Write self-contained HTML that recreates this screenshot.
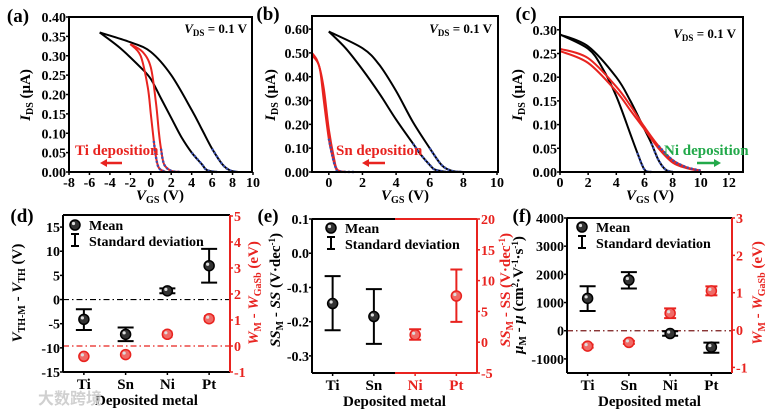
<!DOCTYPE html>
<html><head><meta charset="utf-8"><style>
html,body{margin:0;padding:0;background:#fff;}
svg{display:block;font-family:"Liberation Serif","Noto Serif CJK SC",serif;font-weight:bold;}
</style></head><body>
<svg id="fig" width="775" height="413" viewBox="0 0 775 413" xmlns="http://www.w3.org/2000/svg"></svg>
<script>
// ---- data: transfer curves ----
const aBlackFwdX=[-5,-2,0,2,4,5,6,7,7.7,8.5];
const aBlackFwdY=[0.36,0.335,0.31,0.25,0.16,0.11,0.06,0.02,0.005,0];
const aBlackRevX=[-5,-3,-1,0,1,2,3,4,5,5.5,6.5];
const aBlackRevY=[0.36,0.32,0.27,0.24,0.19,0.14,0.09,0.05,0.02,0.005,0];
const aRed1X=[-2,-1,-0.3,0,0.3,0.5,0.8,1.5];
const aRed1Y=[0.33,0.30,0.22,0.15,0.08,0.04,0.01,0];
const aRed2X=[-2,-0.8,0,0.5,0.8,1,1.3,2,3];
const aRed2Y=[0.33,0.31,0.27,0.18,0.1,0.06,0.02,0.003,0];
const bBlackFwdX=[0,2,3,4,5,6,6.7,7.3,8];
const bBlackFwdY=[0.59,0.52,0.45,0.34,0.21,0.10,0.03,0.005,0];
const bBlackRevX=[0,1,2,3,4,5,5.5,6,6.3,7];
const bBlackRevY=[0.59,0.52,0.43,0.33,0.22,0.12,0.07,0.03,0.01,0];
const bRed1X=[-1,-0.7,-0.5,-0.3,0,0.2,0.4,0.6,1.5];
const bRed1Y=[0.5,0.47,0.42,0.30,0.14,0.07,0.02,0.003,0];
const bRed2X=[-1,-0.6,-0.3,0,0.3,0.5,1];
const bRed2Y=[0.49,0.45,0.35,0.18,0.06,0.01,0];
const cBlack1X=[0,2,3,4,5,5.5,6,6.5];
const cBlack1Y=[0.29,0.26,0.22,0.16,0.08,0.04,0.005,0];
const cBlack2X=[0,2,4,5,6,6.5,7,7.5,8];
const cBlack2Y=[0.29,0.265,0.2,0.15,0.09,0.06,0.025,0.005,0];
const cRed1X=[0,2,4,5,6,7,8,9,10];
const cRed1Y=[0.255,0.23,0.17,0.13,0.09,0.05,0.02,0.008,0.002];
const cRed2X=[0,2,4,5,6,7,8,9,10];
const cRed2Y=[0.26,0.24,0.18,0.14,0.095,0.055,0.025,0.01,0.003];
// ---- data: statistics ----
const metals=["Ti","Sn","Ni","Pt"];
const dVthMean=[-4.1,-7.2,1.8,7];
const dVthLo=[-6.3,-8.6,1.3,3.5];
const dVthHi=[-2,-5.8,2.3,10.5];
const dWMean=[-0.4,-0.33,0.45,1.05];
const dWErr=[0.05,0.05,0.1,0.1];
const eSSMean=[-0.147,-0.185];
const eSSLo=[-0.225,-0.265];
const eSSHi=[-0.067,-0.105];
const eSSRMean=[1.2,7.5];
const eSSRLo=[0.4,3.3];
const eSSRHi=[2.1,11.8];
const fMuMean=[1150,1800,-100,-580];
const fMuLo=[700,1500,-180,-780];
const fMuHi=[1580,2080,-20,-420];
const fWMean=[-0.43,-0.33,0.45,1.05];
const fWErr=[0.04,0.04,0.13,0.12];

const NS="http://www.w3.org/2000/svg";
const svg=document.getElementById('fig');
const RED="#e8231f", BLUE="#3a4fb0", GREEN="#22a94a";
const TF=14;
function mk(tag,attrs,parent){const e=document.createElementNS(NS,tag);for(const k in attrs)e.setAttribute(k,attrs[k]);(parent||svg).appendChild(e);return e;}
function txt(s,x,y,size,fill,anchor,name,rot){
  const t=mk('text',{x:x,y:y,'font-size':size,fill:fill||'#000','text-anchor':anchor||'middle'});
  
  
  if(rot)t.setAttribute('transform','rotate('+rot+' '+x+' '+y+')');
  t.innerHTML=s;return t;}
function lin(d0,d1,p0,p1){return v=>p0+(v-d0)*(p1-p0)/(d1-d0);}
function curve(X,Y,sx,sy,color,name,w,dash){
  const P=X.map((x,i)=>[sx(x),sy(Y[i])]);
  let d='M'+P[0][0].toFixed(1)+','+P[0][1].toFixed(1);
  for(let i=0;i<P.length-1;i++){const p0=P[i-1]||P[i],p1=P[i],p2=P[i+1],p3=P[i+2]||p2;
    const c1=[p1[0]+(p2[0]-p0[0])/6,p1[1]+(p2[1]-p0[1])/6],c2=[p2[0]-(p3[0]-p1[0])/6,p2[1]-(p3[1]-p1[1])/6];
    d+='C'+c1.map(v=>v.toFixed(1))+' '+c2.map(v=>v.toFixed(1))+' '+p2.map(v=>v.toFixed(1));}
  const p=mk('path',{d:d,fill:'none',stroke:color,'stroke-width':w||2,'stroke-dasharray':dash||'none'});
  
  }
function fitTail(X,Y,sx,sy,ymax,name){
  const xs=[],ys=[];for(let i=0;i<X.length;i++)if(Y[i]<=ymax){xs.push(X[i]);ys.push(Y[i]);}
  if(xs.length)curve(xs,ys,sx,sy,BLUE,name,2.4,'2,2');}
function box(x0,y0,x1,y1,name){const r=mk('rect',{x:x0,y:y0,width:x1-x0,height:y1-y0,fill:'none',stroke:'#000','stroke-width':2});
  
  }
function xticks(vals,sx,y,fs,color){vals.forEach(v=>{mk('line',{x1:sx(v),x2:sx(v),y1:y,y2:y+3,stroke:color||'#000','stroke-width':1.5});txt(String(v),sx(v),y+15,fs,color,'middle','x-tick-label');});}
function yticks(vals,labs,sy,x,fs,color,side){vals.forEach((v,i)=>{const dx=side==='r'?3:-3;mk('line',{x1:x,x2:x+dx,y1:sy(v),y2:sy(v),stroke:color||'#000','stroke-width':1.5});
  txt(labs[i],side==='r'?x+4:x-3,sy(v)+5,fs,color,side==='r'?'start':'end','y-tick-label');});}

// ======== (a) ========
(function(){
 const X0=69,X1=252,Y0=17,Y1=172;const sx=lin(-8,10,X0,X1+1),sy=lin(0,0.4,Y1,Y0);
 curve(aBlackFwdX,aBlackFwdY,sx,sy,'#000','a-black-forward');curve(aBlackRevX,aBlackRevY,sx,sy,'#000','a-black-reverse');
 curve(aRed1X,aRed1Y,sx,sy,RED,'a-red-1');curve(aRed2X,aRed2Y,sx,sy,RED,'a-red-2');
 fitTail(aBlackFwdX,aBlackFwdY,sx,sy,0.07,'a-fit-1');fitTail(aBlackRevX,aBlackRevY,sx,sy,0.05,'a-fit-2');
 fitTail(aRed1X,aRed1Y,sx,sy,0.08,'a-fit-3');fitTail(aRed2X,aRed2Y,sx,sy,0.07,'a-fit-4');
 box(X0,Y0,X1,Y1,'plot-a-frame');
 xticks([-8,-6,-4,-2,0,2,4,6,8,10],sx,Y1,TF);
 const yv=[0,0.05,0.1,0.15,0.2,0.25,0.3,0.35,0.4];yticks(yv,yv.map(v=>v.toFixed(2)),sy,X0,TF);
 txt('(a)',18,22,19,'#000','middle','panel-a-label');
 txt('<tspan font-style="italic">I</tspan><tspan font-size="10" dy="3">DS</tspan><tspan dy="-3"> (μA)</tspan>',30,95,15,'#000','middle','a-y-axis-title',-90);
 txt('<tspan font-style="italic">V</tspan><tspan font-size="10" dy="3">GS</tspan><tspan dy="-3"> (V)</tspan>',160,200,15,'#000','middle','a-x-axis-title');
 txt('<tspan font-style="italic">V</tspan><tspan font-size="9" dy="3">DS</tspan><tspan dy="-3"> = 0.1 V</tspan>',247,33,13,'#000','end','a-vds-note');
 txt('Ti deposition',75,155,15,RED,'start','a-ti-deposition-note');
 mk('line',{x1:122,x2:104,y1:163,y2:163,stroke:RED,'stroke-width':2.5});mk('polygon',{points:'100,163 107,159 107,167',fill:RED});
})();
// ======== (b) ========
(function(){
 const X0=312,X1=498,Y0=16,Y1=172;const sx=lin(-1,10,X0,X1-1),sy=lin(0,0.655,Y1,Y0);
 curve(bBlackFwdX,bBlackFwdY,sx,sy,'#000','b-black-forward');curve(bBlackRevX,bBlackRevY,sx,sy,'#000','b-black-reverse');
 curve(bRed1X,bRed1Y,sx,sy,RED,'b-red-1');curve(bRed2X,bRed2Y,sx,sy,RED,'b-red-2');
 fitTail(bBlackFwdX,bBlackFwdY,sx,sy,0.1,'b-fit-1');fitTail(bBlackRevX,bBlackRevY,sx,sy,0.12,'b-fit-2');fitTail(bRed1X,bRed1Y,sx,sy,0.14,'b-fit-3');
 box(X0,Y0,X1,Y1,'plot-b-frame');
 xticks([0,2,4,6,8,10],sx,Y1,TF);
 const yv=[0,0.1,0.2,0.3,0.4,0.5,0.6];yticks(yv,yv.map(v=>v.toFixed(2)),sy,X0,TF);
 txt('(b)',268,20,19,'#000','middle','panel-b-label');
 txt('<tspan font-style="italic">I</tspan><tspan font-size="10" dy="3">DS</tspan><tspan dy="-3"> (μA)</tspan>',275,95,15,'#000','middle','b-y-axis-title',-90);
 txt('<tspan font-style="italic">V</tspan><tspan font-size="10" dy="3">GS</tspan><tspan dy="-3"> (V)</tspan>',405,200,15,'#000','middle','b-x-axis-title');
 txt('<tspan font-style="italic">V</tspan><tspan font-size="9" dy="3">DS</tspan><tspan dy="-3"> = 0.1 V</tspan>',492,33,13,'#000','end','b-vds-note');
 txt('Sn deposition',336,155,15,RED,'start','b-sn-deposition-note');
 mk('line',{x1:385,x2:367,y1:163,y2:163,stroke:RED,'stroke-width':2.5});mk('polygon',{points:'362,163 369,159 369,167',fill:RED});
})();
// ======== (c) ========
(function(){
 const X0=560,X1=743,Y0=17,Y1=172;const sx=lin(0,13,X0,X1),sy=lin(0,0.327,Y1,Y0);
 curve(cBlack1X,cBlack1Y,sx,sy,'#000','c-black-1');curve(cBlack2X,cBlack2Y,sx,sy,'#000','c-black-2');
 curve(cRed1X,cRed1Y,sx,sy,RED,'c-red-1');curve(cRed2X,cRed2Y,sx,sy,RED,'c-red-2');
 fitTail(cBlack1X,cBlack1Y,sx,sy,0.05,'c-fit-1');fitTail(cBlack2X,cBlack2Y,sx,sy,0.06,'c-fit-2');fitTail(cRed2X,cRed2Y,sx,sy,0.06,'c-fit-3');
 box(X0,Y0,X1,Y1,'plot-c-frame');
 xticks([0,2,4,6,8,10,12],sx,Y1,TF);
 const yv=[0,0.05,0.1,0.15,0.2,0.25,0.3];yticks(yv,yv.map(v=>v.toFixed(2)),sy,X0,TF);
 txt('(c)',526,20,19,'#000','middle','panel-c-label');
 txt('<tspan font-style="italic">I</tspan><tspan font-size="10" dy="3">DS</tspan><tspan dy="-3"> (μA)</tspan>',522,95,15,'#000','middle','c-y-axis-title',-90);
 txt('<tspan font-style="italic">V</tspan><tspan font-size="10" dy="3">GS</tspan><tspan dy="-3"> (V)</tspan>',650,200,15,'#000','middle','c-x-axis-title');
 txt('<tspan font-style="italic">V</tspan><tspan font-size="9" dy="3">DS</tspan><tspan dy="-3"> = 0.1 V</tspan>',736,38,13,'#000','end','c-vds-note');
 txt('Ni deposition',664,155,15,GREEN,'start','c-ni-deposition-note');
 mk('line',{x1:697,x2:716,y1:163,y2:163,stroke:GREEN,'stroke-width':2.5});mk('polygon',{points:'721,163 714,159 714,167',fill:GREEN});
})();

// ---- stats helpers ----
function errbar(x,lo,hi,sy,color,name,cap){cap=cap||8;const g=mk('g',{stroke:color,'stroke-width':2});
 
 
 mk('line',{x1:x,x2:x,y1:sy(lo),y2:sy(hi)},g);mk('line',{x1:x-cap,x2:x+cap,y1:sy(lo),y2:sy(lo)},g);mk('line',{x1:x-cap,x2:x+cap,y1:sy(hi),y2:sy(hi)},g);}
function dot(x,y,color,name){const c=mk('circle',{cx:x,cy:y,r:5,fill:color==='#000'?'#333':'#f06a66',stroke:color,'stroke-width':1.5});
 
 
 mk('circle',{cx:x-1.5,cy:y-1.5,r:1.6,fill:'#ddd'});}
function legend(x,y){dot(x,y,'#000','legend-mean-marker');txt('Mean',x+14,y+5,14,'#000','start','legend-mean');
 errbar(x,0,1,v=>y+21-v*12,'#000','legend-std-marker',4);txt('Standard deviation',x+14,y+21,14,'#000','start','legend-std');}
function xcats(X0,X1,Y1,colors){const cx=i=>X0+(i+0.5)*(X1-X0)/4;metals.forEach((m,i)=>{mk('line',{x1:cx(i),x2:cx(i),y1:Y1,y2:Y1+3,stroke:colors[i],'stroke-width':1.5});txt(m,cx(i),Y1+17,15,colors[i],'middle','category-label-'+m.toLowerCase());});
 txt('Deposited metal',(X0+X1)/2,Y1+33,15,'#000','middle','x-axis-title');return cx;}

// ======== (d) ========
(function(){
 const X0=63,X1=230,Y0=215,Y1=372;const sy=lin(-15,17.5,Y1,Y0),sr=lin(-1,5,Y1,Y0+1);
 mk('line',{x1:X0,x2:X1,y1:sy(0),y2:sy(0),stroke:'#000','stroke-width':1.2,'stroke-dasharray':'6,3,1.5,3'});
 mk('line',{x1:X0,x2:X1,y1:sr(0),y2:sr(0),stroke:RED,'stroke-width':1.2,'stroke-dasharray':'6,3,1.5,3'});
 const cx=xcats(X0,X1,Y1,['#000','#000','#000','#000']);
 metals.forEach((m,i)=>{errbar(cx(i),dVthLo[i],dVthHi[i],sy,'#000','d-vth-err-'+m.toLowerCase());dot(cx(i),sy(dVthMean[i]),'#000','d-vth-mean-'+m.toLowerCase());
  errbar(cx(i),dWMean[i]-dWErr[i],dWMean[i]+dWErr[i],sr,RED,'d-w-err-'+m.toLowerCase(),5);dot(cx(i),sr(dWMean[i]),RED,'d-w-mean-'+m.toLowerCase());});
 mk('line',{x1:X0,x2:X1,y1:Y0,y2:Y0,stroke:'#000','stroke-width':2});mk('line',{x1:X0,x2:X1,y1:Y1,y2:Y1,stroke:'#000','stroke-width':2});
 mk('line',{x1:X0,x2:X0,y1:Y0,y2:Y1,stroke:'#000','stroke-width':2});mk('line',{x1:X1,x2:X1,y1:Y0,y2:Y1,stroke:RED,'stroke-width':2});
 const yv=[-15,-10,-5,0,5,10,15];yticks(yv,yv.map(String),sy,X0,TF);
 const rv=[-1,0,1,2,3,4,5];yticks(rv,rv.map(String),sr,X1,TF,RED,'r');
 legend(75,225);
 txt('(d)',22,222,19,'#000','middle','panel-d-label');
 txt('<tspan font-style="italic">V</tspan><tspan font-size="10" dy="3">TH-M</tspan><tspan dy="-3"> - </tspan><tspan font-style="italic">V</tspan><tspan font-size="10" dy="3">TH</tspan><tspan dy="-3"> (V)</tspan>',22,293,15,'#000','middle','d-y-axis-title',-90);
 txt('<tspan font-style="italic">W</tspan><tspan font-size="10" dy="3">M</tspan><tspan dy="-3"> - </tspan><tspan font-style="italic">W</tspan><tspan font-size="10" dy="3">GaSb</tspan><tspan dy="-3"> (eV)</tspan>',258,293,15,RED,'middle','d-right-axis-title',-90);
})();
// ======== (e) ========
(function(){
 const X0=312,X1=477,Y0=219,Y1=373;const sy=lin(-0.35,0.1,Y1,Y0),sr=lin(-5,20,Y1,Y0);const mid=395;
 const cx=xcats(X0,X1,Y1,['#000','#000',RED,RED]);
 [0,1].forEach(i=>{errbar(cx(i),eSSLo[i],eSSHi[i],sy,'#000','e-ss-err-'+metals[i].toLowerCase());dot(cx(i),sy(eSSMean[i]),'#000','e-ss-mean-'+metals[i].toLowerCase());});
 [0,1].forEach(i=>{const k=i+2;errbar(cx(k),eSSRLo[i],eSSRHi[i],sr,RED,'e-ss-err-'+metals[k].toLowerCase(),6);dot(cx(k),sr(eSSRMean[i]),RED,'e-ss-mean-'+metals[k].toLowerCase());});
 mk('line',{x1:X0,x2:mid,y1:Y0,y2:Y0,stroke:'#000','stroke-width':2});mk('line',{x1:X0,x2:mid,y1:Y1,y2:Y1,stroke:'#000','stroke-width':2});
 mk('line',{x1:mid,x2:X1,y1:Y0,y2:Y0,stroke:RED,'stroke-width':2});mk('line',{x1:mid,x2:X1,y1:Y1,y2:Y1,stroke:RED,'stroke-width':2});
 mk('line',{x1:X0,x2:X0,y1:Y0,y2:Y1,stroke:'#000','stroke-width':2});mk('line',{x1:X1,x2:X1,y1:Y0,y2:Y1,stroke:RED,'stroke-width':2});
 const yv=[-0.3,-0.2,-0.1,0,0.1];yticks(yv,yv.map(v=>v.toFixed(1)),sy,X0,TF);
 const rv=[-5,0,5,10,15,20];yticks(rv,rv.map(String),sr,X1,TF,RED,'r');
 legend(331,228);
 txt('(e)',268,222,19,'#000','middle','panel-e-label');
 txt('<tspan font-style="italic">SS</tspan><tspan font-size="10" dy="3">M</tspan><tspan dy="-3"> - </tspan><tspan font-style="italic">SS</tspan> (V·dec<tspan font-size="9" dy="-5">-1</tspan><tspan dy="5">)</tspan>',280,290,15,'#000','middle','e-y-axis-title',-90);
 txt('<tspan font-style="italic">SS</tspan><tspan font-size="10" dy="3">M</tspan><tspan dy="-3"> - SS (V·dec</tspan><tspan font-size="9" dy="-5">-1</tspan><tspan dy="5">)</tspan>',510,290,15,RED,'middle','e-right-axis-title',-90);
})();
// ======== (f) ========
(function(){
 const X0=567,X1=732,Y0=218,Y1=373;const sy=lin(-1500,4000,Y1,Y0),sr=lin(-1.15,3,Y1,Y0);
 mk('line',{x1:X0,x2:X1,y1:sy(0),y2:sy(0),stroke:'#7a1a1a','stroke-width':1.2,'stroke-dasharray':'6,3,1.5,3'});
 const cx=xcats(X0,X1,Y1,['#000','#000','#000','#000']);
 metals.forEach((m,i)=>{errbar(cx(i),fMuLo[i],fMuHi[i],sy,'#000','f-mu-err-'+m.toLowerCase());dot(cx(i),sy(fMuMean[i]),'#000','f-mu-mean-'+m.toLowerCase());
  errbar(cx(i),fWMean[i]-fWErr[i],fWMean[i]+fWErr[i],sr,RED,'f-w-err-'+m.toLowerCase(),6);dot(cx(i),sr(fWMean[i]),RED,'f-w-mean-'+m.toLowerCase());});
 mk('line',{x1:X0,x2:X1,y1:Y0,y2:Y0,stroke:'#000','stroke-width':2});mk('line',{x1:X0,x2:X1,y1:Y1,y2:Y1,stroke:'#000','stroke-width':2});
 mk('line',{x1:X0,x2:X0,y1:Y0,y2:Y1,stroke:'#000','stroke-width':2});mk('line',{x1:X1,x2:X1,y1:Y0,y2:Y1,stroke:RED,'stroke-width':2});
 const yv=[-1000,0,1000,2000,3000,4000];yticks(yv,yv.map(String),sy,X0,TF);
 const rv=[-1,0,1,2,3];yticks(rv,rv.map(String),sr,X1,TF,RED,'r');
 legend(582,227);
 txt('(f)',522,222,19,'#000','middle','panel-f-label');
 txt('<tspan font-style="italic">μ</tspan><tspan font-size="10" dy="3">M</tspan><tspan dy="-3"> - </tspan><tspan font-style="italic">μ</tspan> (cm<tspan font-size="9" dy="-5">2</tspan><tspan dy="5">·V</tspan><tspan font-size="9" dy="-5">-1</tspan><tspan dy="5">·s</tspan><tspan font-size="9" dy="-5">-1</tspan><tspan dy="5">)</tspan>',523,295,15,'#000','middle','f-y-axis-title',-90);
 txt('<tspan font-style="italic">W</tspan><tspan font-size="10" dy="3">M</tspan><tspan dy="-3"> - </tspan><tspan font-style="italic">W</tspan><tspan font-size="10" dy="3">GaSb</tspan><tspan dy="-3"> (eV)</tspan>',762,293,15,RED,'middle','f-right-axis-title',-90);
})();
const wm=txt('大数跨境',38,404,16,'#d0d0d0','start','watermark');
wm.setAttribute('font-family','"Noto Sans CJK SC",sans-serif');
</script>
</body></html>
